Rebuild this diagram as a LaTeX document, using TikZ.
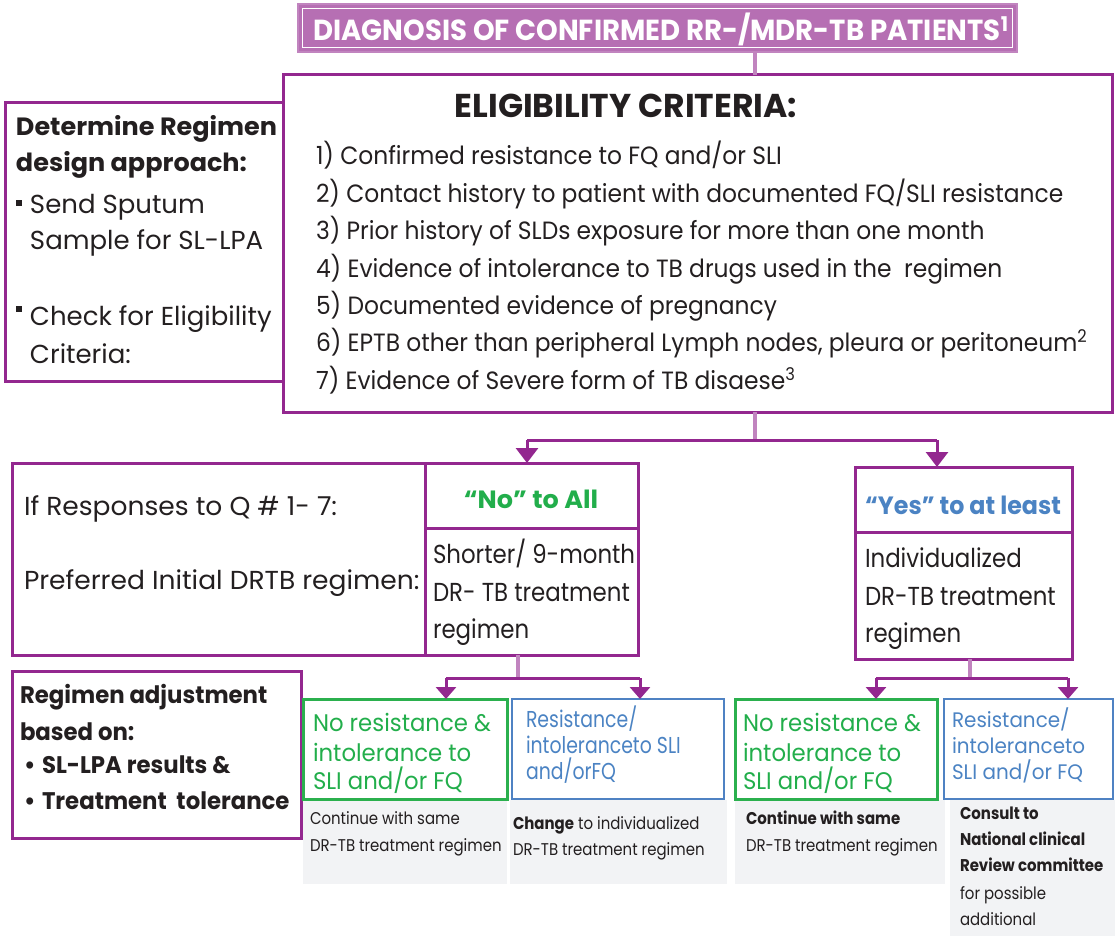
\documentclass[tikz,border=0pt]{standalone}
\usepackage{fontspec}
\setmainfont{Poppins}
\usetikzlibrary{arrows.meta,calc}

\definecolor{pdark}{HTML}{93278F}
\definecolor{plight}{HTML}{C184BF}
\definecolor{pfill}{HTML}{B66FB3}
\definecolor{gtxt}{HTML}{22AE4B}
\definecolor{gline}{HTML}{2BB04E}
\definecolor{btxt}{HTML}{4B83C3}
\definecolor{bline}{HTML}{4F82C3}
\definecolor{greyf}{HTML}{F2F3F5}
\definecolor{ink}{HTML}{231F20}

% font families (horizontal stretch per text group)
\newfontfamily\fa[FakeStretch=1.02]{Poppins}
\newfontfamily\fb[FakeStretch=0.88]{Poppins}
\newfontfamily\fc[FakeStretch=0.95]{Poppins}
\newfontfamily\fd[FakeStretch=0.82]{Poppins}
\newfontfamily\fl[FakeStretch=0.935]{Poppins}
\newfontfamily\fe[FakeStretch=1.0]{Poppins}

% box spanning (x1,y1)-(x2,y2), top-left anchored
\newcommand\bx[6]{\node[#1, minimum width={(#5-#3)*1pt}, minimum height={(#6-#4)*1pt}] (#2) at (#3,#4) {};}

\begin{document}
\begin{tikzpicture}[x=1pt,y=-1pt,
  base/.style={inner sep=0pt, outer sep=0pt, anchor=north west},
  frame/.style={base, draw=pdark, line width=3pt},
  gframe/.style={base, draw=gline, line width=3pt},
  bframe/.style={base, draw=bline, line width=2.6pt},
  greyb/.style={base, fill=greyf},
  t/.style={inner sep=0pt, outer sep=0pt, anchor=base west, text=ink},
  stem/.style={draw=plight, line width=4pt},
  branch/.style={draw=pdark, line width=3pt},
  arr/.style={branch, -{Triangle[width=22pt,length=15pt]}},
  arrs/.style={branch, -{Triangle[width=20pt,length=12pt]}},
]
\useasboundingbox (0,0) rectangle (1120,936);

% ---------- title banner ----------
\bx{base, fill=pfill, draw=plight, line width=1.5pt}{title}{298}{4}{1017}{52}
\draw[white, line width=1.6pt] ($(title.north west)+(4.5,4.5)$) rectangle ($(title.south east)+(-4.5,-4.5)$);
\node[t, anchor=base, text=white, font=\fc\bfseries\fontsize{29}{34}\selectfont] (titletxt) at (661,41)
  {DIAGNOSIS OF CONFIRMED RR-/MDR-TB PATIENTS\textsuperscript{1}};

% ---------- eligibility criteria ----------
\bx{frame}{elig}{283}{75}{1112}{412}
\bx{frame}{design}{5}{103}{283}{381}

\node[t, anchor=base, font=\fe\bfseries\fontsize{33}{38}\selectfont] (eltitle) at (626,118) {ELIGIBILITY CRITERIA:};
\begin{scope}[every node/.style={t, font=\fl\fontsize{25}{30}\selectfont}]
\node (c1) at (316,165) {1) Confirmed resistance to FQ and/or SLI};
\node (c2) at (316,202.4) {2) Contact history to patient with documented FQ/SLI resistance};
\node (c3) at (316,239.8) {3) Prior history of SLDs exposure for more than one month};
\node (c4) at (316,277.2) {4) Evidence of intolerance to TB drugs used in the\ \ regimen};
\node (c5) at (316,314.6) {5) Documented evidence of pregnancy};
\node (c6) at (316,352) {6) EPTB other than peripheral Lymph nodes, pleura or peritoneum\textsuperscript{2}};
\node (c7) at (316,389.4) {7) Evidence of Severe form of TB disaese\textsuperscript{3}};
\end{scope}

% design approach panel
\node[t, font=\fa\bfseries\fontsize{25}{30}\selectfont] (d1) at (16,136) {Determine Regimen};
\node[t, font=\fa\bfseries\fontsize{25}{30}\selectfont] (d2) at (16,172) {design approach:};
\node[base, fill=ink, minimum size=6pt] (sq1) at (16,200) {};
\node[base, fill=ink, minimum size=6pt] (sq2) at (16,306) {};
\begin{scope}[every node/.style={t, font=\fe\fontsize{26}{30}\selectfont}]
\node (d3) at (30,214) {Send Sputum};
\node (d4) at (30,250) {Sample for SL-LPA};
\node (d5) at (30,326) {Check for Eligibility};
\node (d6) at (30,363) {Criteria:};
\end{scope}

% ---------- first split ----------
\coordinate (s1) at (755,440);
\coordinate (bL) at (527,440);
\coordinate (bR) at (937,440);
\draw[stem] (title.south -| s1) -- (elig.north -| s1);
\draw[stem] (elig.south -| s1) -- (s1);
\draw[branch] (bL) -- (bR);

% ---------- preferred regimen table ----------
\bx{frame}{pref}{12}{463}{425}{655}
\bx{frame}{nohead}{425}{463}{638}{528}
\bx{frame}{nobody}{425}{528}{638}{655}
\bx{frame}{yeshead}{855}{467}{1072}{532}
\bx{frame}{yesbody}{855}{532}{1072}{659}
\draw[arr] (bL) -- (bL |- nohead.north);
\draw[arr] (bR) -- (bR |- yeshead.north);

\begin{scope}[every node/.style={t, font=\fa\fontsize{26}{30}\selectfont}]
\node (q1) at (24,515) {If Responses to Q \# 1- 7:};
\node (q2) at (24,589) {Preferred Initial DRTB regimen:};
\end{scope}
\begin{scope}[every node/.style={t, font=\fb\fontsize{26}{30}\selectfont}]
\node (n1) at (433,563) {Shorter/ 9-month};
\node (n2) at (433,601) {DR- TB treatment};
\node (n3) at (433,638) {regimen};
\node (y1) at (865,567) {Individualized};
\node (y2) at (865,605) {DR-TB treatment};
\node (y3) at (865,642) {regimen};
\end{scope}
\node[t, anchor=base, text=gtxt, font=\fa\bfseries\fontsize{25}{30}\selectfont] (notxt) at (531,508) {“No” to All};
\node[t, anchor=base, text=btxt, font=\fc\bfseries\fontsize{25}{30}\selectfont] (yestxt) at (963,514) {“Yes” to at least};

% ---------- regimen adjustment ----------
\bx{frame}{adjust}{12}{671}{301}{838}
\begin{scope}[every node/.style={t, font=\fc\bfseries\fontsize{24}{30}\selectfont}]
\node (a1) at (20,703) {Regimen adjustment};
\node (a2) at (20,740) {based on:};
\node (ab1) at (24,773) {\textbullet};
\node (a3) at (42,773) {SL-LPA results \&};
\node (ab2) at (24,809) {\textbullet};
\node (a4) at (42,809) {Treatment\ \ tolerance};
\end{scope}

% ---------- second split ----------
\coordinate (s2) at (518,678);
\coordinate (s3) at (970,678);
\draw[stem] (nobody.south -| s2) -- (s2);
\draw[stem] (yesbody.south -| s3) -- (s3);
\coordinate (cL1) at (446,678);
\coordinate (cR1) at (640,678);
\coordinate (cL2) at (876,678);
\coordinate (cR2) at (1068,678);
\draw[branch] (cL1) -- (cR1);
\draw[branch] (cL2) -- (cR2);

% ---------- outcome boxes ----------
\bx{greyb}{gr1}{303}{800}{507}{884}
\bx{greyb}{gr2}{510}{800}{727}{884}
\bx{greyb}{gr3}{735}{800}{945}{884}
\bx{greyb}{gr4}{950}{800}{1115}{936}
\bx{gframe}{o1}{303}{699}{507}{799}
\bx{bframe}{o2}{512}{699}{724}{799}
\bx{gframe}{o3}{735}{699}{937}{799}
\bx{bframe}{o4}{944}{699}{1113}{799}
\draw[arrs] (cL1) -- (cL1 |- o1.north);
\draw[arrs] (cR1) -- (cR1 |- o2.north);
\draw[arrs] (cL2) -- (cL2 |- o3.north);
\draw[arrs] (cR2) -- (cR2 |- o4.north);

\begin{scope}[every node/.style={t, text=gtxt, font=\fc\fontsize{24}{30}\selectfont}]
\node (o1a) at (313,731) {No resistance \&};
\node (o1b) at (313,761) {intolerance to};
\node (o1c) at (313,789) {SLI and/or FQ};
\node (o3a) at (743,731) {No resistance \&};
\node (o3b) at (743,761) {intolerance to};
\node (o3c) at (743,789) {SLI and/or FQ};
\end{scope}
\begin{scope}[every node/.style={t, text=btxt, font=\fd\fontsize{23}{30}\selectfont}]
\node (o2a) at (526,727) {Resistance/};
\node (o2b) at (526,753) {intoleranceto SLI};
\node (o2c) at (526,779) {and/orFQ};
\end{scope}
\begin{scope}[every node/.style={t, text=btxt, font=\fc\fontsize{21}{30}\selectfont}]
\node (o4a) at (952,727) {Resistance/};
\node (o4b) at (952,753) {intoleranceto};
\node (o4c) at (952,779) {SLI and/or FQ};
\end{scope}

\begin{scope}[every node/.style={t, font=\fb\fontsize{17}{20}\selectfont}]
\node (g1a) at (310,824) {Continue with same};
\node (g1b) at (310,851) {DR-TB treatment regimen};
\node (g2a) at (513,829) {\textbf{Change} to individualized};
\node (g2b) at (513,855) {DR-TB treatment regimen};
\node (g3a) at (746,824) {\textbf{Continue with same}};
\node (g3b) at (746,851) {DR-TB treatment regimen};
\node (g4a) at (960,819) {\textbf{Consult to}};
\node (g4b) at (960,845) {\textbf{National clinical}};
\node (g4c) at (960,871) {\textbf{Review committee}};
\node (g4d) at (960,899) {for possible};
\node (g4e) at (960,925) {additional};
\end{scope}
\end{tikzpicture}
\end{document}
